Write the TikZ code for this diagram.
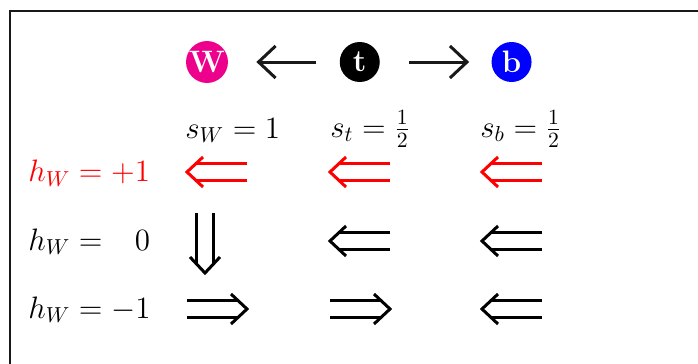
\documentclass[tikz,border=0pt]{standalone}
\usepackage{fix-cm}
\usepackage{amsmath,amssymb}
\usepackage{tikz}
\usetikzlibrary{arrows.meta,positioning}

\definecolor{wpink}{RGB}{236,0,140}

\begin{document}
\begin{tikzpicture}[
  x=0.5pt, y=-0.5pt,
  font=\fontsize{15.5}{19}\selectfont,
  node distance=55.5pt,
  ball/.style={circle, minimum size=20pt, inner sep=0pt, text=white, font=\fontsize{15.5}{19}\selectfont\bfseries},
  lbl/.style={inner sep=0pt, anchor=base west},
  link/.style={-{Straight Barb[length=8.5pt,width=16pt]}, line width=1.5pt, draw=black!90},
  spinar/.pic={
    \draw[line width=1.5pt] (0,-8.5) -- (51,-8.5) (0,8.5) -- (51,8.5);
    \draw[line width=1.5pt, line join=miter] (44,-15) -- (60,0) -- (44,15);
  }
]
\useasboundingbox (0,0) rectangle (698,364);
\draw[line width=1pt, black!90] (10,11) rectangle (730,400);

% particles
\node[ball, fill=wpink] (W) at (207,62) {W};
\node[ball, fill=black, right=of W] (t) {t};
\node[ball, fill=blue, right=of t] (b) {b};
\draw[link, shorten <=11.5pt, shorten >=14pt] (t) -- (W);
\draw[link, shorten <=14.5pt, shorten >=11pt] (t) -- (b);

% spins
\node[lbl] (sW) at (185,138) {$s_W = 1$};
\node[lbl] (st) at (330,137) {$s_t = \frac{1}{2}$};
\node[lbl] (sb) at (480,137) {$s_b = \frac{1}{2}$};

% helicities
\node[lbl, text=red] (hp) at (28,182) {$h_W = +1$};
\node[lbl] (h0) at (28,250) {$h_W = \phantom{+}0$};
\node[lbl] (hm) at (28,318) {$h_W = -1$};

% arrows: tail at the given point
\pic[red, rotate=180] at (247,172) {spinar};
\pic[red, rotate=180] at (390,172) {spinar};
\pic[red, rotate=180] at (542,172) {spinar};

\pic[rotate=-90] at (205,213) {spinar};
\pic[rotate=180] at (390,241) {spinar};
\pic[rotate=180] at (542,241) {spinar};

\pic at (187,309) {spinar};
\pic at (330,309) {spinar};
\pic[rotate=180] at (542,309) {spinar};
\end{tikzpicture}
\end{document}
